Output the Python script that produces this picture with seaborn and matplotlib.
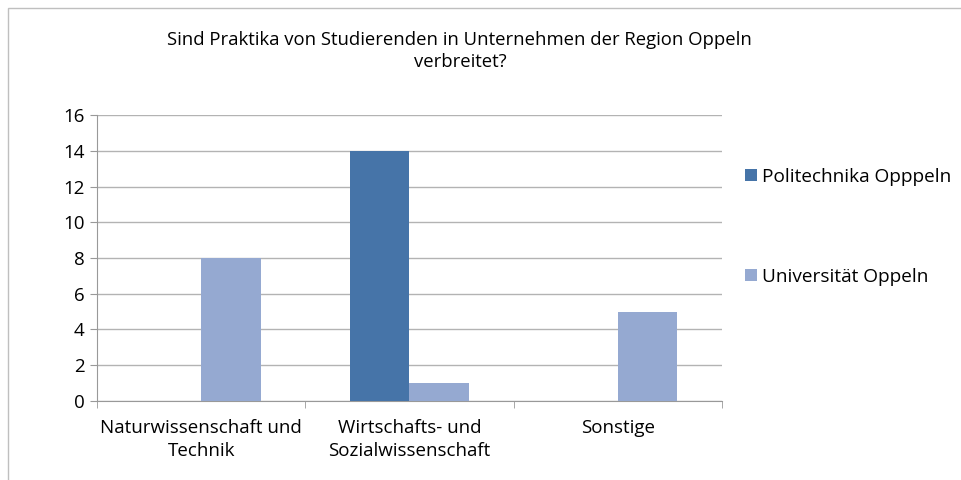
import pandas as pd
import numpy as np
import seaborn as sns
import matplotlib.pyplot as plt
from matplotlib.patches import Rectangle

kategorien = ['Naturwissenschaft und\nTechnik', 'Wirtschafts- und\nSozialwissenschaft', 'Sonstige']
hochschulen = ['Politechnika Opppeln', 'Universität Oppeln']
politechnika = [0, 14, 0]
universitaet = [8, 1, 5]
farben = ['#4674A8', '#95A9D1']

df = pd.DataFrame({
    'Kategorie': kategorien * 2,
    'Hochschule': [hochschulen[0]] * 3 + [hochschulen[1]] * 3,
    'Anzahl': politechnika + universitaet,
})

sns.set_style('white')
plt.rcParams['font.family'] = ['Open Sans', 'DejaVu Sans']
plt.rcParams['text.color'] = 'black'
plt.rcParams['xtick.labelcolor'] = 'black'
plt.rcParams['ytick.labelcolor'] = 'black'

fig = plt.figure(figsize=(9.62, 4.80), dpi=100)
ax = fig.add_axes([0.1008, 0.1646, 0.6497, 0.5958])

sns.barplot(data=df, x='Kategorie', y='Anzahl', hue='Hochschule', palette=farben,
            width=0.57, saturation=1, linewidth=0, ax=ax, zorder=3)

ax.set_ylim(0, 16)
ax.set_yticks(range(0, 17, 2))
ax.set_xlim(-0.5, 2.5)
ax.yaxis.grid(True, color='#B3B3B3', lw=1, zorder=0)
ax.set_xlabel('')
ax.set_ylabel('')
for s in ['top', 'right']:
    ax.spines[s].set_visible(False)
for s in ['left', 'bottom']:
    ax.spines[s].set_color('#999999')
ax.tick_params(axis='y', length=5, color='#999999', labelcolor='black', labelsize=13.5, pad=4, left=True)
ax.tick_params(axis='x', which='major', length=0, labelcolor='black', labelsize=13.5, pad=13)
for lab in ax.get_xticklabels():
    lab.set_linespacing(1.35)
ax.set_xticks([-0.5, 0.5, 1.5, 2.5], minor=True)
ax.tick_params(axis='x', which='minor', length=5, color='#999999', bottom=True)

fig.text(0.478, 0.893, 'Sind Praktika von Studierenden in Unternehmen der Region Oppeln\nverbreitet?',
         ha='center', va='center', fontsize=13.3, linespacing=1.3, color='black')

leg = ax.legend(loc='upper left', bbox_to_anchor=(1.01, 0.875), frameon=False, fontsize=13.7,
                handlelength=0.6, handleheight=0.6, handletextpad=0.3, labelspacing=4.3)
for t in leg.get_texts():
    t.set_color('black')

fig.patches.append(Rectangle((8 / 962, -0.1), 1.2, 1.1 - 8 / 480, transform=fig.transFigure,
                             fill=False, edgecolor='#BFBFBF', lw=1))

plt.savefig('out.png', dpi=100)
